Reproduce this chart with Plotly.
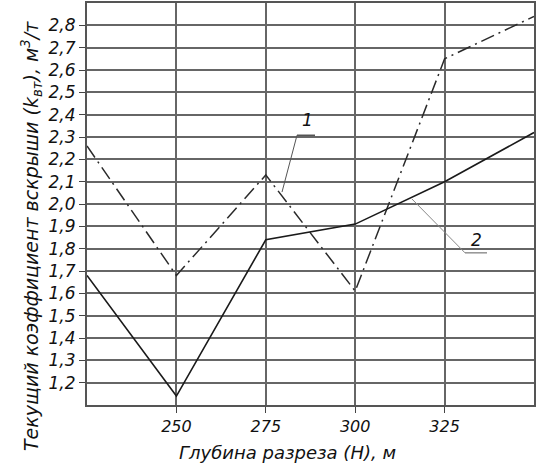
import plotly.graph_objects as go

depth = [225, 250, 275, 300, 325, 350]
series1 = [2.26, 1.68, 2.13, 1.61, 2.65, 2.84]
series2 = [1.68, 1.14, 1.84, 1.91, 2.10, 2.32]
x_ticks = [250, 275, 300, 325]
y_ticks = [1.2, 1.3, 1.4, 1.5, 1.6, 1.7, 1.8, 1.9, 2.0, 2.1, 2.2, 2.3, 2.4, 2.5, 2.6, 2.7, 2.8]

FONT = "DejaVu Sans"
L, R, T, B = 87, 534, 3, 405
fig = go.Figure()
fig.add_trace(go.Scatter(x=depth, y=series1, mode="lines",
                         line=dict(color="#2a2a2a", width=1.5, dash="14px,5px,2px,5px"),
                         showlegend=False))
fig.add_trace(go.Scatter(x=depth, y=series2, mode="lines",
                         line=dict(color="#1a1a1a", width=1.6),
                         showlegend=False))

xs = lambda px: 225 + (px - L) / (R - L) * 125
ys = lambda py: 2.8 - (py - 24.7) / 22.41 * 0.1
px_ = lambda px: (px - L) / (R - L)
py_ = lambda py: (B - py) / (B - T)

# leader labels
fig.add_annotation(x=xs(307), y=ys(120), text="1", showarrow=False, xref="x", yref="y",
                   font=dict(family=FONT, size=17, color="#111", style="italic"))
fig.add_annotation(x=xs(476), y=ys(240), text="2", showarrow=False, xref="x", yref="y",
                   font=dict(family=FONT, size=17, color="#111", style="italic"))
fig.add_shape(type="line", x0=xs(297), y0=ys(135), x1=xs(315), y1=ys(135),
              line=dict(color="#555", width=1.5))
fig.add_shape(type="line", x0=xs(297), y0=ys(135), x1=xs(282), y1=ys(192),
              line=dict(color="#555", width=1))
fig.add_shape(type="line", x0=xs(465), y0=ys(253), x1=xs(487), y1=ys(253),
              line=dict(color="#777", width=1.2))
fig.add_shape(type="line", x0=xs(465), y0=ys(253), x1=xs(412), y1=ys(199),
              line=dict(color="#888", width=1))

# axis titles
fig.add_annotation(x=px_(287), y=py_(452), xref="paper", yref="paper",
                   text="Глубина разреза (Н), м", showarrow=False,
                   xanchor="center", yanchor="middle",
                   font=dict(family=FONT, size=18, color="#111", style="italic"))
fig.add_annotation(x=px_(31), y=py_(236), xref="paper", yref="paper",
                   text="Текущий коэффициент вскрыши (k<sub>вт</sub>), м<sup>3</sup>/т",
                   showarrow=False, textangle=-90, xanchor="center", yanchor="middle",
                   font=dict(family=FONT, size=19, color="#111", style="italic"))

fig.update_layout(
    template="none",
    width=539, height=471,
    margin=dict(l=L, r=539 - R, t=T, b=471 - B),
    paper_bgcolor="white", plot_bgcolor="white",
    separators=", ",
    font=dict(family=FONT, color="#111"),
    xaxis=dict(range=[225, 350], tickmode="array", tickvals=x_ticks,
               showgrid=True, gridcolor="#666666", gridwidth=1.5,
               showline=True, linecolor="#555555", linewidth=2, mirror=True,
               ticks="outside", ticklen=6, tickcolor="#444444", tickwidth=1.3,
               tickfont=dict(family=FONT, size=16, style="italic"), zeroline=False,
               automargin=False),
    yaxis=dict(range=[1.1, 2.9], tickmode="array", tickvals=y_ticks, tickformat=".1f",
               showgrid=True, gridcolor="#666666", gridwidth=1.5,
               showline=True, linecolor="#555555", linewidth=2, mirror=True,
               ticks="outside", ticklen=6, tickcolor="#444444", tickwidth=1.3,
               tickfont=dict(family=FONT, size=17, style="italic"), zeroline=False,
               automargin=False),
)
fig.write_html("out.html", config={"displayModeBar": False},
               post_script="document.body.style.margin='0';document.body.style.padding='0';")
